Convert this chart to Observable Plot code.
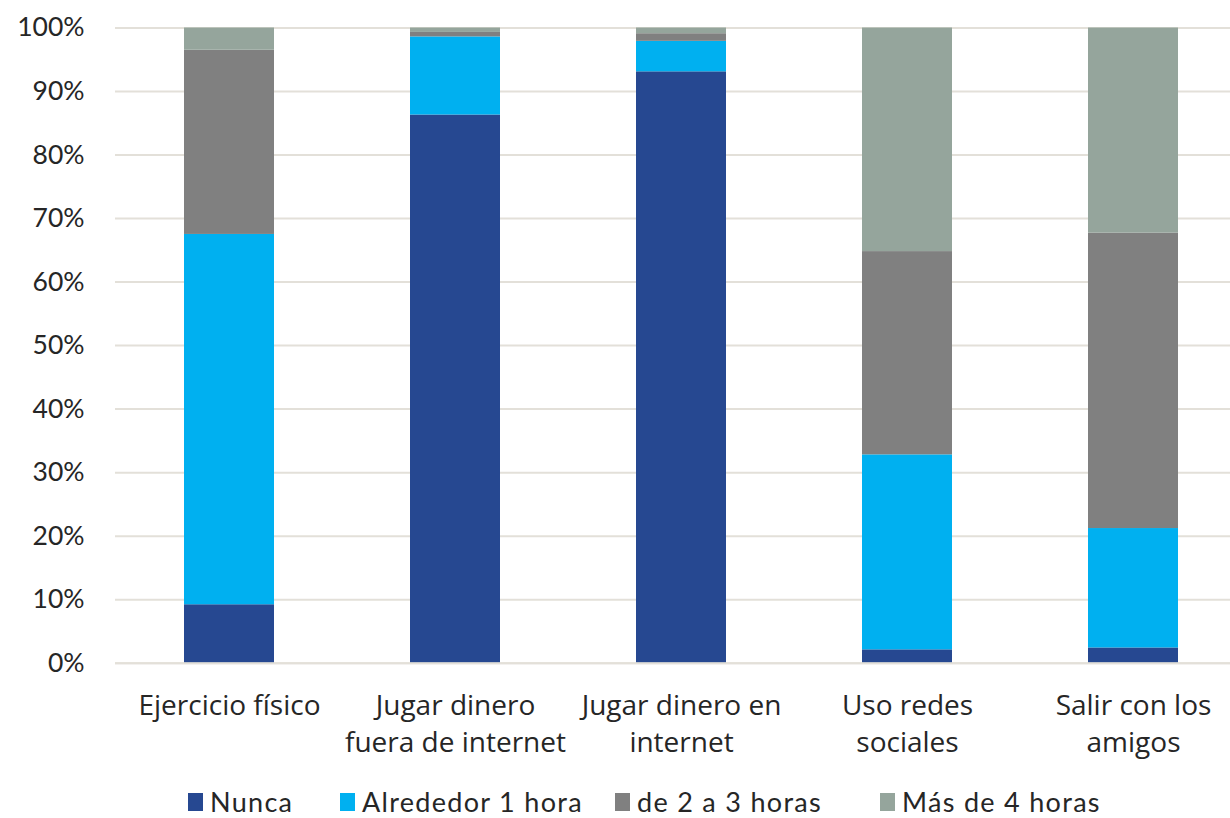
<!DOCTYPE html>
<html>
<head>
<meta charset="utf-8">
<script src="https://cdn.jsdelivr.net/npm/d3@7"></script>
<script src="https://cdn.jsdelivr.net/npm/@observablehq/plot@0.6"></script>
<style>
  html, body { margin: 0; padding: 0; background: #fff; overflow: hidden; width: 1230px; height: 818px; }
  #chart { position: absolute; left: 0; top: 0; width: 1248px; }
  #chart svg { max-width: none !important; }
  #legend { position: absolute; left: 0; top: 785px; width: 1230px; height: 33px; font-family: Lato, sans-serif; font-size: 27px; line-height: 33px; letter-spacing: 1.3px; color: #262626; }
  .item { position: absolute; top: 0; display: flex; align-items: center; height: 33px; white-space: nowrap; }
  .sw { width: 15px; height: 18px; margin-right: 7px; }
</style>
</head>
<body>
<div id="chart"></div>
<div id="legend"></div>
<script>
const categories = ["Ejercicio físico", "Jugar dinero\nfuera de internet", "Jugar dinero en\ninternet", "Uso redes\nsociales", "Salir con los\namigos"];
const seriesNames = ["Nunca", "Alrededor 1 hora", "de 2 a 3 horas", "Más de 4 horas"];
const nunca      = [9.2, 86.3, 93.1, 2.1, 2.4];
const alrededor  = [58.3, 12.3, 4.8, 30.7, 18.8];
const de2a3      = [29.0, 0.7, 1.2, 32.0, 46.5];
const mas4       = [3.5, 0.7, 0.9, 35.2, 32.3];
const colors = ["#264891", "#00B0F0", "#808080", "#95A59C"];
const yTicks = [0, 10, 20, 30, 40, 50, 60, 70, 80, 90, 100];

const series = [nunca, alrededor, de2a3, mas4];
const data = [];
series.forEach((vals, si) => vals.forEach((v, ci) => data.push({cat: categories[ci], serie: seriesNames[si], value: v})));

const chart = Plot.plot({
  width: 1248,
  height: 780,
  marginTop: 27.5,
  marginBottom: 117.3,
  marginLeft: 115,
  marginRight: 0.5,
  style: {fontFamily: "'Open Sans', sans-serif", fontSize: "28px", color: "#262626", background: "#fff", maxWidth: "none"},
  x: {domain: categories, paddingInner: 0.6, paddingOuter: 0.3, label: null},
  y: {domain: [0, 100], label: null},
  color: {domain: seriesNames, range: colors},
  marks: [
    Plot.gridY(yTicks, {stroke: "#e3e0d9", strokeOpacity: 1, strokeWidth: 2}),
    Plot.barY(data, Plot.stackY({x: "cat", y: "value", fill: "serie", order: seriesNames})),
    Plot.ruleY([0], {stroke: "#e3e0d9", strokeWidth: 2}),
    Plot.axisY(yTicks, {tickSize: 0, tickPadding: 31, tickFormat: d => d + "%", fontSize: 26.5, fontFamily: "Lato, sans-serif", fill: "#262626"}),
    Plot.axisX({tickSize: 0, tickPadding: 26, lineHeight: 1.32, fontSize: 28, fill: "#262626"})
  ]
});
document.getElementById("chart").appendChild(chart);

const lefts = [188, 340, 615, 880];
const legend = document.getElementById("legend");
seriesNames.forEach((name, i) => {
  const it = document.createElement("div");
  it.className = "item";
  it.style.left = lefts[i] + "px";
  const sw = document.createElement("span");
  sw.className = "sw";
  sw.style.background = colors[i];
  const t = document.createElement("span");
  t.textContent = name;
  it.appendChild(sw); it.appendChild(t);
  legend.appendChild(it);
});
</script>
</body>
</html>
